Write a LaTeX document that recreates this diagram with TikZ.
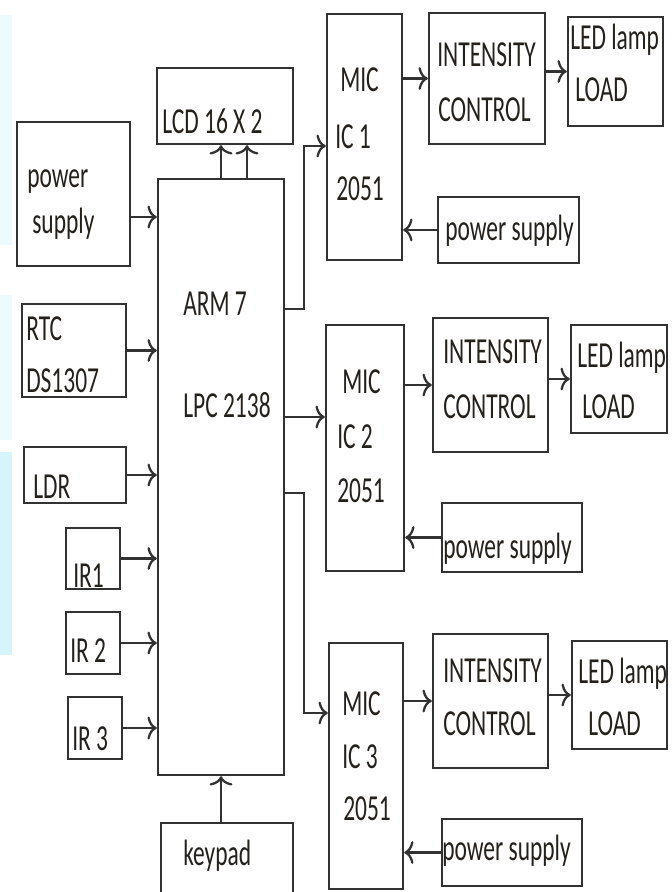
\documentclass[tikz,border=0pt]{standalone}
\usepackage{fontspec}
\setmainfont[FakeStretch=0.64]{Carlito}
\usetikzlibrary{arrows.meta, fit, calc}
\definecolor{linecolor}{RGB}{50, 50, 50}
\definecolor{textcolor}{RGB}{36, 32, 28}
\definecolor{markcolor}{RGB}{214, 244, 252}

\begin{document}
\begin{tikzpicture}[
    x=0.75pt, y=-0.75pt,
    box/.style={draw=linecolor, line width=1.8pt, inner sep=0pt},
    lbl/.style={anchor=base west, inner sep=0pt, text=textcolor, font=\fontsize{27.5}{32}\selectfont},
    arrow/.style={-{To[length=7pt, width=17pt]}, line width=1.7pt, draw=linecolor}
]
\useasboundingbox (0,0) rectangle (671,892);

% faint background mark
\fill[markcolor!45] (0,15) rectangle (12,245);
\fill[markcolor!45] (0,295) rectangle (12,440);
\fill[markcolor] (0,452) rectangle (12,655);

% Inputs
\node[box, fit={(17,122) (130,266)}] (psMain) {};
\node[box, fit={(22,304) (126,397)}] (rtc) {};
\node[box, fit={(24,447) (126,503)}] (ldr) {};
\node[box, fit={(66,528) (120,589)}] (irA) {};
\node[box, fit={(66,612) (120,674)}] (irB) {};
\node[box, fit={(68,697) (122,759)}] (irC) {};

% Controller, display, keypad
\node[box, fit={(158,179) (284,775)}] (arm) {};
\node[box, fit={(157,68) (293,144)}] (lcd) {};
\node[box, fit={(161,823) (293,905)}] (keypad) {};

% Channel 1
\node[box, fit={(327,14) (402,260)}] (micA) {};
\node[box, fit={(429,13) (545,144)}] (intA) {};
\node[box, fit={(568,17) (663,126)}] (ledA) {};
\node[box, fit={(438,197) (579,263)}] (psA) {};

% Channel 2
\node[box, fit={(326,325) (404,571)}] (micB) {};
\node[box, fit={(433,318) (548,452)}] (intB) {};
\node[box, fit={(571,325) (667,433)}] (ledB) {};
\node[box, fit={(442,503) (582,572)}] (psB) {};

% Channel 3
\node[box, fit={(329,643) (403,889)}] (micC) {};
\node[box, fit={(433,634) (548,768)}] (intC) {};
\node[box, fit={(572,641) (667,749)}] (ledC) {};
\node[box, fit={(442,819) (582,886)}] (psC) {};

% Labels
\node[lbl] (psMainA) at (27,187) {power};
\node[lbl] (psMainB) at (32,233) {supply};
\node[lbl] (rtcA) at (26,340) {RTC};
\node[lbl] (rtcB) at (26,392) {DS1307};
\node[lbl] (ldrA) at (33,498) {LDR};
\node[lbl] (irAA) at (73,587) {IR1};
\node[lbl] (irBA) at (70,662) {IR 2};
\node[lbl] (irCA) at (72,750) {IR 3};
\node[lbl] (armA) at (183,315) {ARM 7};
\node[lbl] (armB) at (183,417) {LPC 2138};
\node[lbl] (lcdA) at (162,133) {LCD 16 X 2};
\node[lbl] (keypadA) at (183,865) {keypad};

\node[lbl] (micAA) at (340,92) {MIC};
\node[lbl] (micAB) at (335,148) {IC 1};
\node[lbl] (micAC) at (336,200) {2051};
\node[lbl] (intAA) at (437,67) {INTENSITY};
\node[lbl] (intAB) at (438,122) {CONTROL};
\node[lbl] (ledAA) at (570,50) {LED lamp};
\node[lbl] (ledAB) at (575,102) {LOAD};
\node[lbl] (psAA) at (445,240) {power supply};

\node[lbl] (micBA) at (342,393) {MIC};
\node[lbl] (micBB) at (337,448) {IC 2};
\node[lbl] (micBC) at (337,502) {2051};
\node[lbl] (intBA) at (443,363) {INTENSITY};
\node[lbl] (intBB) at (443,418) {CONTROL};
\node[lbl] (ledBA) at (577,367) {LED lamp};
\node[lbl] (ledBB) at (582,418) {LOAD};
\node[lbl] (psBA) at (443,558) {power supply};

\node[lbl] (micCA) at (342,715) {MIC};
\node[lbl] (micCB) at (342,768) {IC 3};
\node[lbl] (micCC) at (343,820) {2051};
\node[lbl] (intCA) at (443,682) {INTENSITY};
\node[lbl] (intCB) at (443,735) {CONTROL};
\node[lbl] (ledCA) at (578,683) {LED lamp};
\node[lbl] (ledCB) at (588,735) {LOAD};
\node[lbl] (psCA) at (442,860) {power supply};

% Arrows into the controller
\draw[arrow] ($(psMain.east)+(0,23)$) coordinate (psOut) -- (psOut -| arm.west);
\draw[arrow] (rtc.east) -- (rtc.east -| arm.west);
\draw[arrow] (ldr.east) -- (ldr.east -| arm.west);
\draw[arrow] (irA.east) -- (irA.east -| arm.west);
\draw[arrow] (irB.east) -- (irB.east -| arm.west);
\draw[arrow] (irC.east) -- (irC.east -| arm.west);
\draw[arrow] (keypad.north -| arm.south) -- (arm.south);
\draw[arrow] (arm.north) -- (arm.north |- lcd.south);
\draw[arrow] ($(arm.north)+(26,0)$) coordinate (lcdIn) -- (lcdIn |- lcd.south);

% Arrows out to the drivers
\draw[arrow] ($(arm.north east)+(0,131)$) -- ++(19,0) |- ($(micA.west)+(0,9)$);
\draw[arrow] ($(arm.east)+(0,-60)$) coordinate (lpcOut) -- (lpcOut -| micB.west);
\draw[arrow] ($(arm.east)+(0,16)$) -- ++(19,0) |- ($(micC.west)+(0,-53)$);

% Channel arrows
\draw[arrow] (intA.west -| micA.east) -- (intA.west);
\draw[arrow] (ledA.west -| intA.east) -- (ledA.west);
\draw[arrow] (psA.west) -- (psA.west -| micA.east);
\draw[arrow] (intB.west -| micB.east) -- (intB.west);
\draw[arrow] (ledB.west -| intB.east) -- (ledB.west);
\draw[arrow] (psB.west) -- (psB.west -| micB.east);
\draw[arrow] (intC.west -| micC.east) -- (intC.west);
\draw[arrow] (ledC.west -| intC.east) -- (ledC.west);
\draw[arrow] (psC.west) -- (psC.west -| micC.east);

\end{tikzpicture}
\end{document}
